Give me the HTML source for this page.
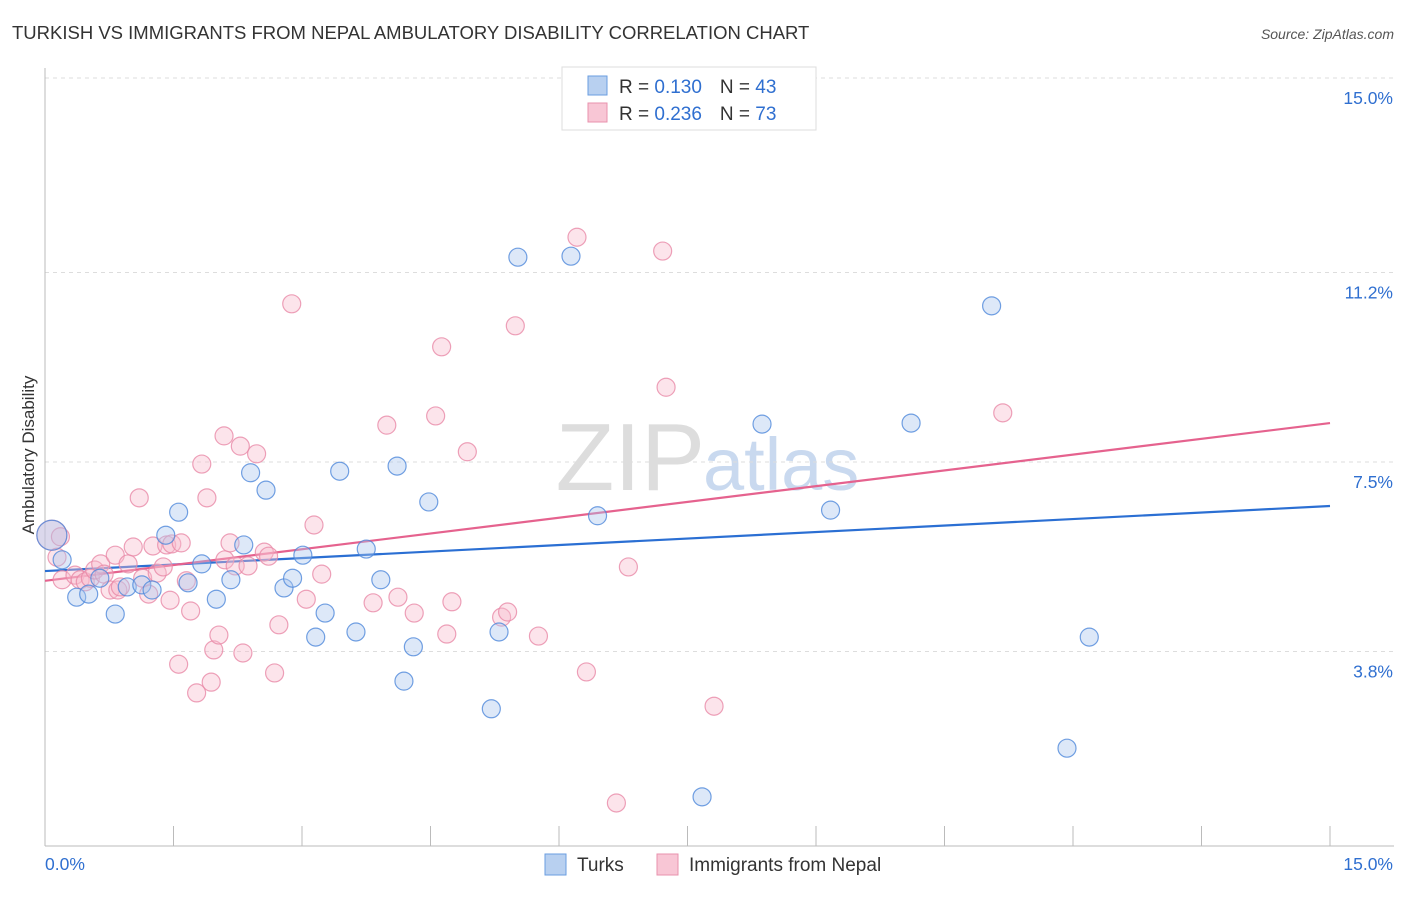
<!DOCTYPE html>
<html><head><meta charset="utf-8"><style>
body{margin:0;background:#fff;font-family:"Liberation Sans",sans-serif}
svg text{font-family:"Liberation Sans",sans-serif}
</style></head><body>
<svg id="chart" width="1406" height="892">
<text x="12" y="39" font-size="18.5" fill="#333">TURKISH VS IMMIGRANTS FROM NEPAL AMBULATORY DISABILITY CORRELATION CHART</text>
<text x="1394" y="39" font-size="14" fill="#555" font-style="italic" text-anchor="end">Source: ZipAtlas.com</text>
<text x="705" y="490" font-size="96" fill="#ddd" text-anchor="end" font-family="Liberation Serif">ZIP</text>
<text x="703" y="490" font-size="74" fill="#c9d9ef">atlas</text>
<g id="grid"></g><g id="axes"></g><g id="trend"></g><g id="pts"></g>
<text transform="translate(34,455) rotate(-90)" font-size="17" fill="#333" text-anchor="middle">Ambulatory Disability</text>
<g>
<rect x="562" y="67" width="254" height="63" fill="#fff" stroke="#ddd"/>
<rect x="588" y="76" width="19" height="19" fill="#b8d0f0" stroke="#6a9ee0"/>
<text x="619" y="93" font-size="19" fill="#333">R = <tspan fill="#2f6fd0">0.130</tspan><tspan dx="18">N = </tspan><tspan fill="#2f6fd0">43</tspan></text>
<rect x="588" y="103" width="19" height="19" fill="#f8c6d5" stroke="#e892ad"/>
<text x="619" y="120" font-size="19" fill="#333">R = <tspan fill="#2f6fd0">0.236</tspan><tspan dx="18">N = </tspan><tspan fill="#2f6fd0">73</tspan></text>
</g>
<g>
<rect x="545" y="854" width="21" height="21" fill="#b8d0f0" stroke="#6a9ee0"/>
<text x="577" y="871" font-size="19" fill="#333">Turks</text>
<rect x="657" y="854" width="21" height="21" fill="#f8c6d5" stroke="#e892ad"/>
<text x="689" y="871" font-size="19" fill="#333">Immigrants from Nepal</text>
</g>
</svg>
<script>
const yTicks=[3.8,7.5,11.2,15.0];
const yTickLabels=["3.8%","7.5%","11.2%","15.0%"];
const xTickCount=10;
const xLabels=["0.0%","15.0%"];
const turksX=[0.08,0.20,0.37,0.51,0.64,0.82,0.96,1.13,1.25,1.41,1.56,1.67,1.83,2.00,2.17,2.32,2.40,2.58,2.79,2.89,3.01,3.16,3.27,3.44,3.63,3.75,3.92,4.11,4.19,4.30,4.48,5.21,5.30,5.52,6.14,6.45,7.67,8.37,9.17,10.11,11.05,11.93,12.19];
const turksY=[6.07,5.59,4.86,4.92,5.23,4.53,5.06,5.10,5.00,6.07,6.52,5.14,5.51,4.82,5.20,5.88,7.29,6.95,5.04,5.23,5.68,4.08,4.55,7.32,4.18,5.80,5.20,7.42,3.22,3.89,6.72,2.68,4.18,11.50,11.52,6.45,0.96,8.24,6.56,8.26,10.55,1.91,4.08];
const nepalX=[0.08,0.14,0.18,0.20,0.35,0.41,0.47,0.53,0.58,0.65,0.69,0.76,0.82,0.85,0.88,0.97,1.03,1.10,1.14,1.21,1.26,1.31,1.38,1.42,1.46,1.48,1.56,1.59,1.65,1.70,1.77,1.83,1.89,1.94,1.97,2.03,2.09,2.10,2.16,2.22,2.28,2.31,2.37,2.47,2.56,2.61,2.68,2.73,2.88,3.05,3.14,3.23,3.83,3.99,4.12,4.31,4.56,4.63,4.69,4.75,4.93,5.33,5.40,5.49,5.76,6.21,6.32,6.67,6.81,7.21,7.25,7.81,11.18];
const nepalY=[6.07,5.64,6.04,5.20,5.29,5.20,5.16,5.23,5.39,5.51,5.31,5.00,5.68,5.00,5.06,5.51,5.84,6.80,5.23,4.92,5.86,5.33,5.45,5.88,4.80,5.90,3.55,5.92,5.18,4.59,2.99,7.46,6.80,3.20,3.83,4.12,8.01,5.59,5.92,5.47,7.81,3.77,5.47,7.66,5.74,5.66,3.38,4.32,10.59,4.82,6.27,5.31,4.75,8.22,4.86,4.55,8.40,9.75,4.14,4.77,7.70,4.47,4.57,10.16,4.10,11.89,3.40,0.84,5.45,11.62,8.96,2.73,8.46];
const turksTrend=[5.37,6.64];
const nepalTrend=[5.18,8.26];
const X0=45,X1=1330,Y0=846,Y1=78;
const sx=v=>X0+v/15*(X1-X0);
const sy=v=>Y0-v/15*(Y0-Y1);
const NS="http://www.w3.org/2000/svg";
function mk(t,a,p){const e=document.createElementNS(NS,t);for(const k in a)e.setAttribute(k,a[k]);p.appendChild(e);return e;}
const grid=document.getElementById('grid'),axes=document.getElementById('axes'),trend=document.getElementById('trend'),pts=document.getElementById('pts');
yTicks.forEach((v,i)=>{
 const l=mk('line',{x1:X0,x2:1394,y1:sy(v),y2:sy(v),stroke:'#ddd','stroke-dasharray':'4,4'},grid);
 
 
 const t=mk('text',{x:1393,y:sy(v)+26,'font-size':17.5,fill:'#2f6fd0','text-anchor':'end'},axes);
 t.textContent=yTickLabels[i];
 
 
});
const ya=mk('line',{x1:X0,x2:X0,y1:68,y2:Y0,stroke:'#bbb'},axes);


const xa=mk('line',{x1:X0,x2:1394,y1:Y0,y2:Y0,stroke:'#bbb'},axes);


for(let i=0;i<=xTickCount;i++){
 const tk=mk('line',{x1:sx(i*1.5),x2:sx(i*1.5),y1:826,y2:Y0,stroke:'#bbb'},axes);
 
 
}
const xl0=mk('text',{x:45,y:870,'font-size':17.5,fill:'#2f6fd0'},axes);xl0.textContent=xLabels[0];


const xl1=mk('text',{x:1393,y:870,'font-size':17.5,fill:'#2f6fd0','text-anchor':'end'},axes);xl1.textContent=xLabels[1];


function dots(xs,ys,fill,stroke,name){
 xs.forEach((x,i)=>{
  const r=i===0?15:9;
  const c=mk('circle',{cx:sx(x),cy:sy(ys[i]),r:r,fill:fill,'fill-opacity':0.4,stroke:stroke,'stroke-width':1.2,'stroke-opacity':0.8},pts);
  
  
 });
}
dots(nepalX,nepalY,'#f8bccd','#e98aa8','point-nepal');
dots(turksX,turksY,'#aac6ee','#4f88db','point-turks');
const t1=mk('line',{x1:sx(0),x2:sx(15),y1:sy(turksTrend[0]),y2:sy(turksTrend[1]),stroke:'#2b6fd3','stroke-width':2.2},trend);


const t2=mk('line',{x1:sx(0),x2:sx(15),y1:sy(nepalTrend[0]),y2:sy(nepalTrend[1]),stroke:'#e5628e','stroke-width':2.2},trend);


</script>
</body></html>
